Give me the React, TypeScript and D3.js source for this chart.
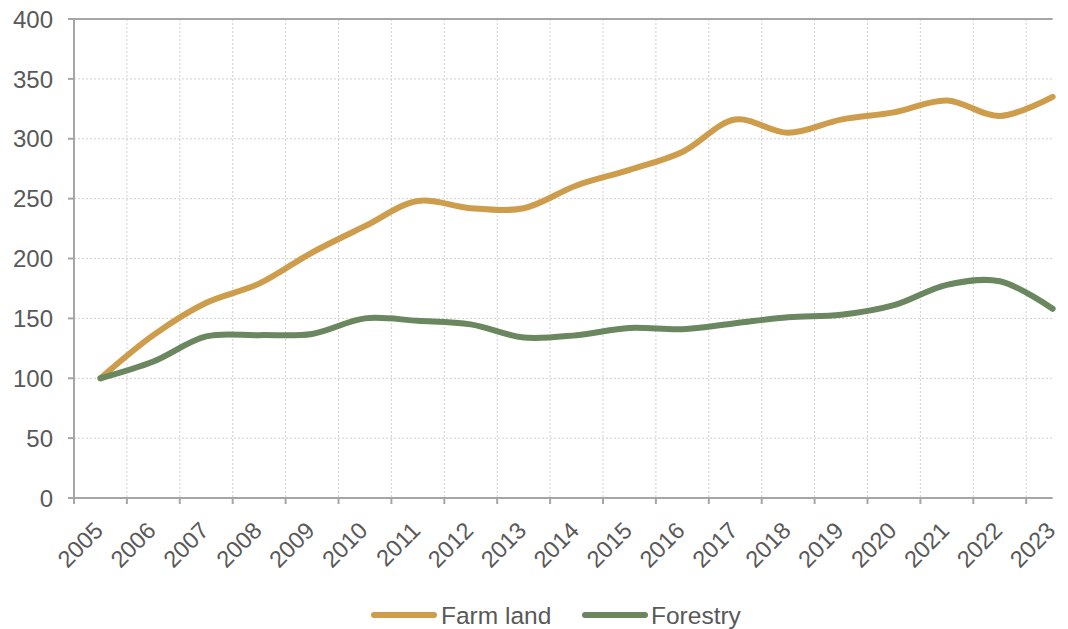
import React from "react";
import * as d3 from "d3";

// Index values (2005 = 100) by year
const years = [
  "2005", "2006", "2007", "2008", "2009", "2010", "2011", "2012", "2013", "2014",
  "2015", "2016", "2017", "2018", "2019", "2020", "2021", "2022", "2023",
];
const farmLand = [100, 136, 163, 179, 205, 227, 248, 242, 242, 261, 274, 289, 316, 305, 316, 322, 332, 319, 335];
const forestry = [100, 114, 135, 136, 137, 150, 148, 145, 134, 136, 142, 141, 146, 151, 153, 161, 178, 181, 158];
const yTicks = [0, 50, 100, 150, 200, 250, 300, 350, 400];

const seriesNames = ["Farm land", "Forestry"];
const seriesColors = ["#cd9d4c", "#6a8760"];

const W = 1068;
const H = 629;
const FONT = "'Liberation Sans', Arial, Helvetica, sans-serif";
const TEXT = "#595959";
const AXIS = "#a6a6a6";
const GRID = "#d0d0d0";

export default function App() {
  const left = 74;
  const top = 19;
  const bottom = 498;

  const x = d3.scaleBand<string>().domain(years).range([left, left + 52.9 * years.length]).paddingInner(0).paddingOuter(0);
  const y = d3.scaleLinear().domain([0, 400]).range([bottom, top]);
  const cx = (yr: string) => (x(yr) as number) + x.bandwidth() / 2;
  const right = cx(years[years.length - 1]);

  const line = d3
    .line<number>()
    .x((_, i) => cx(years[i]))
    .y((v) => y(v))
    .curve(d3.curveCatmullRom.alpha(0.5));

  const series = [farmLand, forestry];

  return (
    <svg width={W} height={H} style={{ position: "absolute", left: 0, top: 0, background: "#fff" }}>
      {/* horizontal grid */}
      {yTicks.filter((t) => t > 0 && t < 400).map((t) => (
        <line key={"hg" + t} x1={left} x2={right} y1={y(t)} y2={y(t)} stroke={GRID} strokeWidth={1} strokeDasharray="2,2" />
      ))}
      {/* vertical grid at category boundaries */}
      {years.slice(1).map((yr) => (
        <line key={"vg" + yr} x1={x(yr)} x2={x(yr)} y1={top} y2={bottom} stroke={GRID} strokeWidth={1} strokeDasharray="2,2" />
      ))}

      {/* frame top */}
      <line x1={left} x2={right} y1={top} y2={top} stroke={AXIS} strokeWidth={2} />

      {/* y axis */}
      <line x1={left} x2={left} y1={top} y2={bottom} stroke={AXIS} strokeWidth={2} />
      {yTicks.map((t) => (
        <g key={"yt" + t}>
          <line x1={left - 6} x2={left} y1={y(t)} y2={y(t)} stroke={AXIS} strokeWidth={2} />
          <text x={53} y={y(t)} dy="0.36em" textAnchor="end" fontFamily={FONT} fontSize={24} fill={TEXT}>
            {t}
          </text>
        </g>
      ))}

      {/* x axis */}
      <line x1={left - 6} x2={right} y1={bottom} y2={bottom} stroke={AXIS} strokeWidth={2} />
      {years.map((yr) => (
        <g key={"xt" + yr}>
          <line x1={x(yr)} x2={x(yr)} y1={bottom} y2={bottom + 6} stroke={AXIS} strokeWidth={2} />
          <text
            transform={`translate(${cx(yr) + 4},${bottom + 34}) rotate(-45)`}
            textAnchor="end"
            fontFamily={FONT}
            fontSize={23.5}
            fill={TEXT}
          >
            {yr}
          </text>
        </g>
      ))}

      {/* series lines */}
      {series.map((s, i) => (
        <path key={seriesNames[i]} d={line(s) || ""} fill="none" stroke={seriesColors[i]} strokeWidth={6} strokeLinecap="round" strokeLinejoin="round" />
      ))}

      {/* legend */}
      {[
        { x0: 374, tx: 441 },
        { x0: 585, tx: 651 },
      ].map((l, i) => (
        <g key={"lg" + i}>
          <line x1={l.x0} x2={l.x0 + 60} y1={615} y2={615} stroke={seriesColors[i]} strokeWidth={6} strokeLinecap="round" />
          <text x={l.tx} y={615} dy="0.36em" fontFamily={FONT} fontSize={24.5} fill={TEXT}>
            {seriesNames[i]}
          </text>
        </g>
      ))}
    </svg>
  );
}
